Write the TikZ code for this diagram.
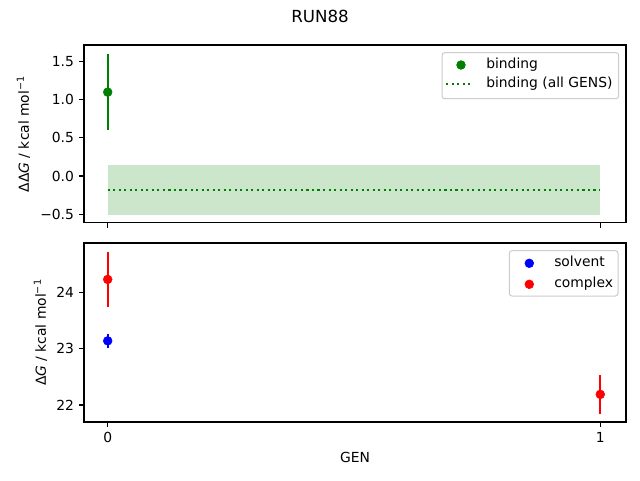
\documentclass[tikz,border=0pt]{standalone}
\usepackage{fontspec}
\setmainfont{DejaVu Sans}
\usepackage{xcolor}
\usepackage{tikz}

\definecolor{plotgreen}{RGB}{0,128,0}
\definecolor{bandgreen}{RGB}{204,230,204}
\definecolor{plotblue}{RGB}{0,0,255}
\definecolor{plotred}{RGB}{255,0,0}
\definecolor{legendedge}{RGB}{204,204,204}

\tikzset{
  axisframe/.style={black, line width=0.83pt},
  tickmark/.style={black, line width=0.83pt},
  ticklabel/.style={inner sep=0pt, font=\fontsize{10.4}{12}\selectfont},
  errbar/.style={line width=1.56pt},
  legendbox/.style={draw=legendedge, fill=white, line width=0.75pt, rounded corners=2pt},
  legendtext/.style={inner sep=0pt, anchor=mid west, font=\fontsize{10.4}{12}\selectfont},
}

\begin{document}
\begin{tikzpicture}[x=0.75pt,y=0.75pt]
				\useasboundingbox (0,0) rectangle (640,480);
				\fill[white] (0,0) rectangle (640,480);

				\node[inner sep=0pt, font=\fontsize{12.5}{15}\selectfont] (title) at (320,463.5) {RUN88};

				% upper panel: binding
				\begin{scope}[shift={(107.7,304)}, x=369.45pt, y=57.19pt]
					\fill[bandgreen] (0,-0.51) rectangle (1,0.14);
					\draw[plotgreen, line width=1.56pt, dash pattern=on 1.56pt off 2.58pt] (0,-0.18) -- (1,-0.18);
					\draw[plotgreen, errbar] (0,0.6) -- (0,1.6);
					\filldraw[plotgreen] (0,1.1) circle (3.3pt);
				\end{scope}

				\draw[axisframe] (84,257.3) rectangle (626,435);

				\draw[tickmark] (84,418.4) -- (79.1,418.4);
				\draw[tickmark] (84,380.3) -- (79.1,380.3);
				\draw[tickmark] (84,342.1) -- (79.1,342.1);
				\draw[tickmark] (84,304) -- (79.1,304);
				\draw[tickmark] (84,265.9) -- (79.1,265.9);
				\draw[tickmark] (107.7,257.3) -- (107.7,252.4);
				\draw[tickmark] (600.3,257.3) -- (600.3,252.4);

				\node[ticklabel, anchor=east] (topyA) at (74.2,418.4) {1.5};
				\node[ticklabel, anchor=east] (topyB) at (74.2,380.3) {1.0};
				\node[ticklabel, anchor=east] (topyC) at (74.2,342.1) {0.5};
				\node[ticklabel, anchor=east] (topyD) at (74.2,304) {0.0};
				\node[ticklabel, anchor=east] (topyE) at (74.2,265.9) {−0.5};

				\node[ticklabel, rotate=90] (topylabel) at (23.5,346) {ΔΔ\textit{G} / kcal mol\textsuperscript{−1}};

				\filldraw[legendbox] (442,381.3) rectangle (618.7,427.3);
				\filldraw[plotgreen] (461,415) circle (3.3pt);
				\draw[plotgreen, line width=1.56pt, dash pattern=on 1.56pt off 2.58pt] (446,395.7) -- (471.7,395.7);
				\node[legendtext] (legbinding) at (486,415) {binding};
				\node[legendtext] (legbindingall) at (486,395.7) {binding (all GENS)};

				% lower panel: solvent and complex
				\begin{scope}[shift={(107.7,-1164.7)}, x=369.45pt, y=42.26pt]
					\draw[plotblue, errbar] (0,23.01) -- (0,23.27);
					\filldraw[plotblue] (0,23.14) circle (3.3pt);
					\draw[plotred, errbar] (0,23.74) -- (0,24.72);
					\filldraw[plotred] (0,24.23) circle (3.3pt);
					\draw[plotred, errbar] (1,21.85) -- (1,22.53);
					\filldraw[plotred] (1,22.19) circle (3.3pt);
				\end{scope}

				\draw[axisframe] (84,58) rectangle (626,237);

				\draw[tickmark] (84,75) -- (79.1,75);
				\draw[tickmark] (84,131.4) -- (79.1,131.4);
				\draw[tickmark] (84,187.7) -- (79.1,187.7);
				\draw[tickmark] (107.7,58) -- (107.7,53.1);
				\draw[tickmark] (600.3,58) -- (600.3,53.1);

				\node[ticklabel, anchor=east] (botyA) at (74.2,187.7) {24};
				\node[ticklabel, anchor=east] (botyB) at (74.2,131.4) {23};
				\node[ticklabel, anchor=east] (botyC) at (74.2,75) {22};
				\node[ticklabel, anchor=north] (botxA) at (107.7,47.9) {0};
				\node[ticklabel, anchor=north] (botxB) at (600.3,47.9) {1};

				\node[ticklabel] (xlabel) at (355,22.3) {GEN};
				\node[ticklabel, rotate=90] (botylabel) at (40.5,147.5) {Δ\textit{G} / kcal mol\textsuperscript{−1}};

				\filldraw[legendbox] (509.3,184) rectangle (618,229.3);
				\filldraw[plotblue] (529.3,216.7) circle (3.3pt);
				\filldraw[plotred] (529.3,195.7) circle (3.3pt);
				\node[legendtext] (legsolvent) at (554,216.7) {solvent};
				\node[legendtext] (legcomplex) at (554,195.7) {complex};
			\end{tikzpicture}
\end{document}
